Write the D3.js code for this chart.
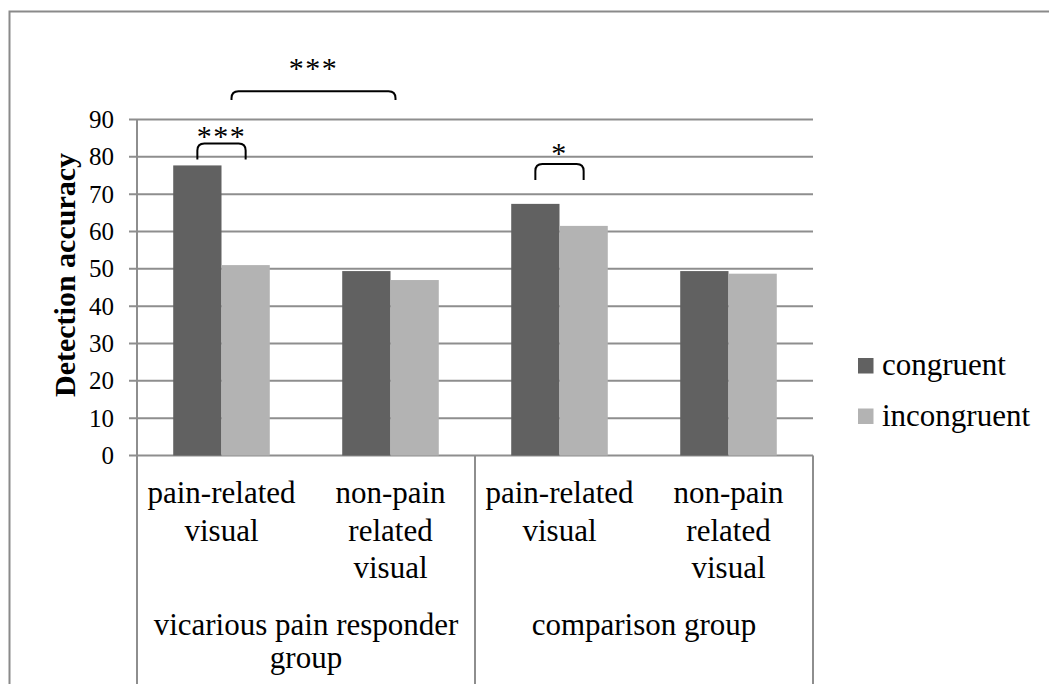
<!DOCTYPE html>
<html>
<head>
<meta charset="utf-8">
<script src="https://cdn.jsdelivr.net/npm/d3@7"></script>
<style>
  html, body { margin: 0; padding: 0; background: #fff; }
  svg { display: block; font-family: "Liberation Serif", "Times New Roman", serif; }
</style>
</head>
<body>
<div id="chart"></div>
<script>
// data
const categories = ["vpr-pain", "vpr-nonpain", "cmp-pain", "cmp-nonpain"];
const categoryLines = [
  ["pain-related", "visual"],
  ["non-pain", "related", "visual"],
  ["pain-related", "visual"],
  ["non-pain", "related", "visual"]
];
const groups = ["vicarious pain responder group", "comparison group"];
const groupLines = [["vicarious pain responder", "group"], ["comparison group"]];
const series = ["congruent", "incongruent"];
const congruent = [77.7, 49.4, 67.4, 49.4];
const incongruent = [51.0, 47.0, 61.5, 48.7];
const yTicks = [0, 10, 20, 30, 40, 50, 60, 70, 80, 90];

// significance brackets
const sigLabels = ["***", "***", "*"];
const sigTop = [83.6, 97.6, 78.1];
const sigLeg = [79.3, 95.2, 73.8];
const sigText = [82.8, 101.1, 78.3];

(function(){
  const width = 1049;
  const height = 684;
  const colors = { congruent: "#616161", incongruent: "#b3b3b3" };
  const gridColor = "#8e8e8e";

  const svg = d3.select("#chart").append("svg")
    .attr("width", width)
    .attr("height", height);

  svg.append("rect").attr("width", width).attr("height", height).attr("fill", "#fff");

  // outer chart frame (cropped at right and bottom)
  svg.append("path")
    .attr("d", `M9.5,${height} L9.5,11.5 L${width},11.5`)
    .attr("fill", "none")
    .attr("stroke", "#8a8a8a")
    .attr("stroke-width", 2);

  const y = d3.scaleLinear().domain([0, 90]).range([455.5, 119.5]);
  const x0 = d3.scaleBand().domain(categories).range([137, 813]).padding(0);
  const x1 = d3.scaleBand().domain(series).range([0, x0.bandwidth()])
    .paddingInner(0).paddingOuter(0.75);

  // gridlines + tick marks
  svg.append("g").selectAll("line")
    .data(yTicks)
    .enter().append("line")
    .attr("x1", 129).attr("x2", x0.range()[1])
    .attr("y1", d => y(d)).attr("y2", d => y(d))
    .attr("stroke", gridColor)
    .attr("stroke-width", 2);

  // tick labels
  svg.append("g").selectAll("text")
    .data(yTicks)
    .enter().append("text")
    .attr("x", 114)
    .attr("y", d => y(d) + 8.5)
    .attr("text-anchor", "end")
    .attr("font-size", 25)
    .attr("fill", "#000")
    .text(d => d);

  // vertical axis and group dividers
  svg.append("line")
    .attr("x1", x0.range()[0]).attr("x2", x0.range()[0])
    .attr("y1", y(90)).attr("y2", height)
    .attr("stroke", gridColor).attr("stroke-width", 2);

  const dividers = [x0(categories[2]), x0.range()[1]];
  svg.append("g").selectAll("line")
    .data(dividers)
    .enter().append("line")
    .attr("x1", d => d).attr("x2", d => d)
    .attr("y1", y(0)).attr("y2", height)
    .attr("stroke", gridColor).attr("stroke-width", 2);

  // bars
  const rows = categories.map((c, i) => ({ cat: c, values: [
    { key: "congruent", value: congruent[i] },
    { key: "incongruent", value: incongruent[i] }
  ]}));

  const barGroups = svg.append("g").selectAll("g")
    .data(rows)
    .enter().append("g")
    .attr("transform", d => `translate(${x0(d.cat)},0)`);

  barGroups.selectAll("rect")
    .data(d => d.values)
    .enter().append("rect")
    .attr("x", d => x1(d.key))
    .attr("width", x1.bandwidth())
    .attr("y", d => y(d.value))
    .attr("height", d => y(0) - y(d.value))
    .attr("fill", d => colors[d.key]);

  // category labels
  const lineGap = 37.3;
  svg.append("g").selectAll("text")
    .data(categories)
    .enter().append("text")
    .attr("text-anchor", "middle")
    .attr("font-size", 31)
    .attr("fill", "#000")
    .each(function(d, i) {
      const t = d3.select(this);
      categoryLines[i].forEach((ln, j) => {
        t.append("tspan")
          .attr("x", x0(d) + x0.bandwidth() / 2)
          .attr("y", 503.3 + j * lineGap)
          .text(ln);
      });
    });

  // group labels (two separate lines so they don't collide)
  svg.append("g").selectAll("text")
    .data(groups.flatMap((g, i) => groupLines[i].map((ln, j) => ({ i, j, ln }))))
    .enter().append("text")
    .attr("text-anchor", "middle")
    .attr("font-size", 31)
    .attr("fill", "#000")
    .attr("x", d => x0(categories[d.i * 2]) + x0.bandwidth())
    .attr("y", d => 634.5 + d.j * 33)
    .text(d => d.ln);

  // y axis title
  svg.append("text")
    .attr("transform", "translate(75,275) rotate(-90)")
    .attr("text-anchor", "middle")
    .attr("font-size", 30)
    .attr("font-weight", "bold")
    .attr("fill", "#000")
    .text("Detection accuracy");

  // significance brackets
  const barCenter = (ci, s) => x0(categories[ci]) + x1(series[s]) + x1.bandwidth() / 2;
  const sigX = [
    [barCenter(0, 0), barCenter(0, 1)],
    [x0(categories[0]) + x0.bandwidth() / 2 + 10, x0(categories[1]) + x0.bandwidth() / 2 + 5],
    [barCenter(2, 0), barCenter(2, 1)]
  ];

  function bracket(xa, xb, top, leg) {
    const r = 7;
    return `M${xa},${leg} L${xa},${top + r} Q${xa},${top} ${xa + r},${top}` +
      ` L${xb - r},${top} Q${xb},${top} ${xb},${top + r} L${xb},${leg}`;
  }

  sigLabels.forEach((lab, i) => {
    const [xa, xb] = sigX[i];
    svg.append("path")
      .attr("d", bracket(xa, xb, y(sigTop[i]), y(sigLeg[i])))
      .attr("fill", "none")
      .attr("stroke", "#000")
      .attr("stroke-width", 2);
    svg.append("text")
      .attr("x", (xa + xb) / 2)
      .attr("y", y(sigText[i]))
      .attr("text-anchor", "middle")
      .attr("font-size", 30)
      .attr("letter-spacing", 1.5)
      .attr("fill", "#000")
      .text(lab);
  });

  // legend
  const legend = svg.append("g").selectAll("g")
    .data(series)
    .enter().append("g")
    .attr("transform", (d, i) => `translate(858,${358 + i * 50.5})`);

  legend.append("rect")
    .attr("width", 15.5).attr("height", 15.5)
    .attr("fill", d => colors[d]);

  legend.append("text")
    .attr("x", 24)
    .attr("y", 17)
    .attr("font-size", 31)
    .attr("fill", "#000")
    .text(d => d);
})();
</script>
</body>
</html>
